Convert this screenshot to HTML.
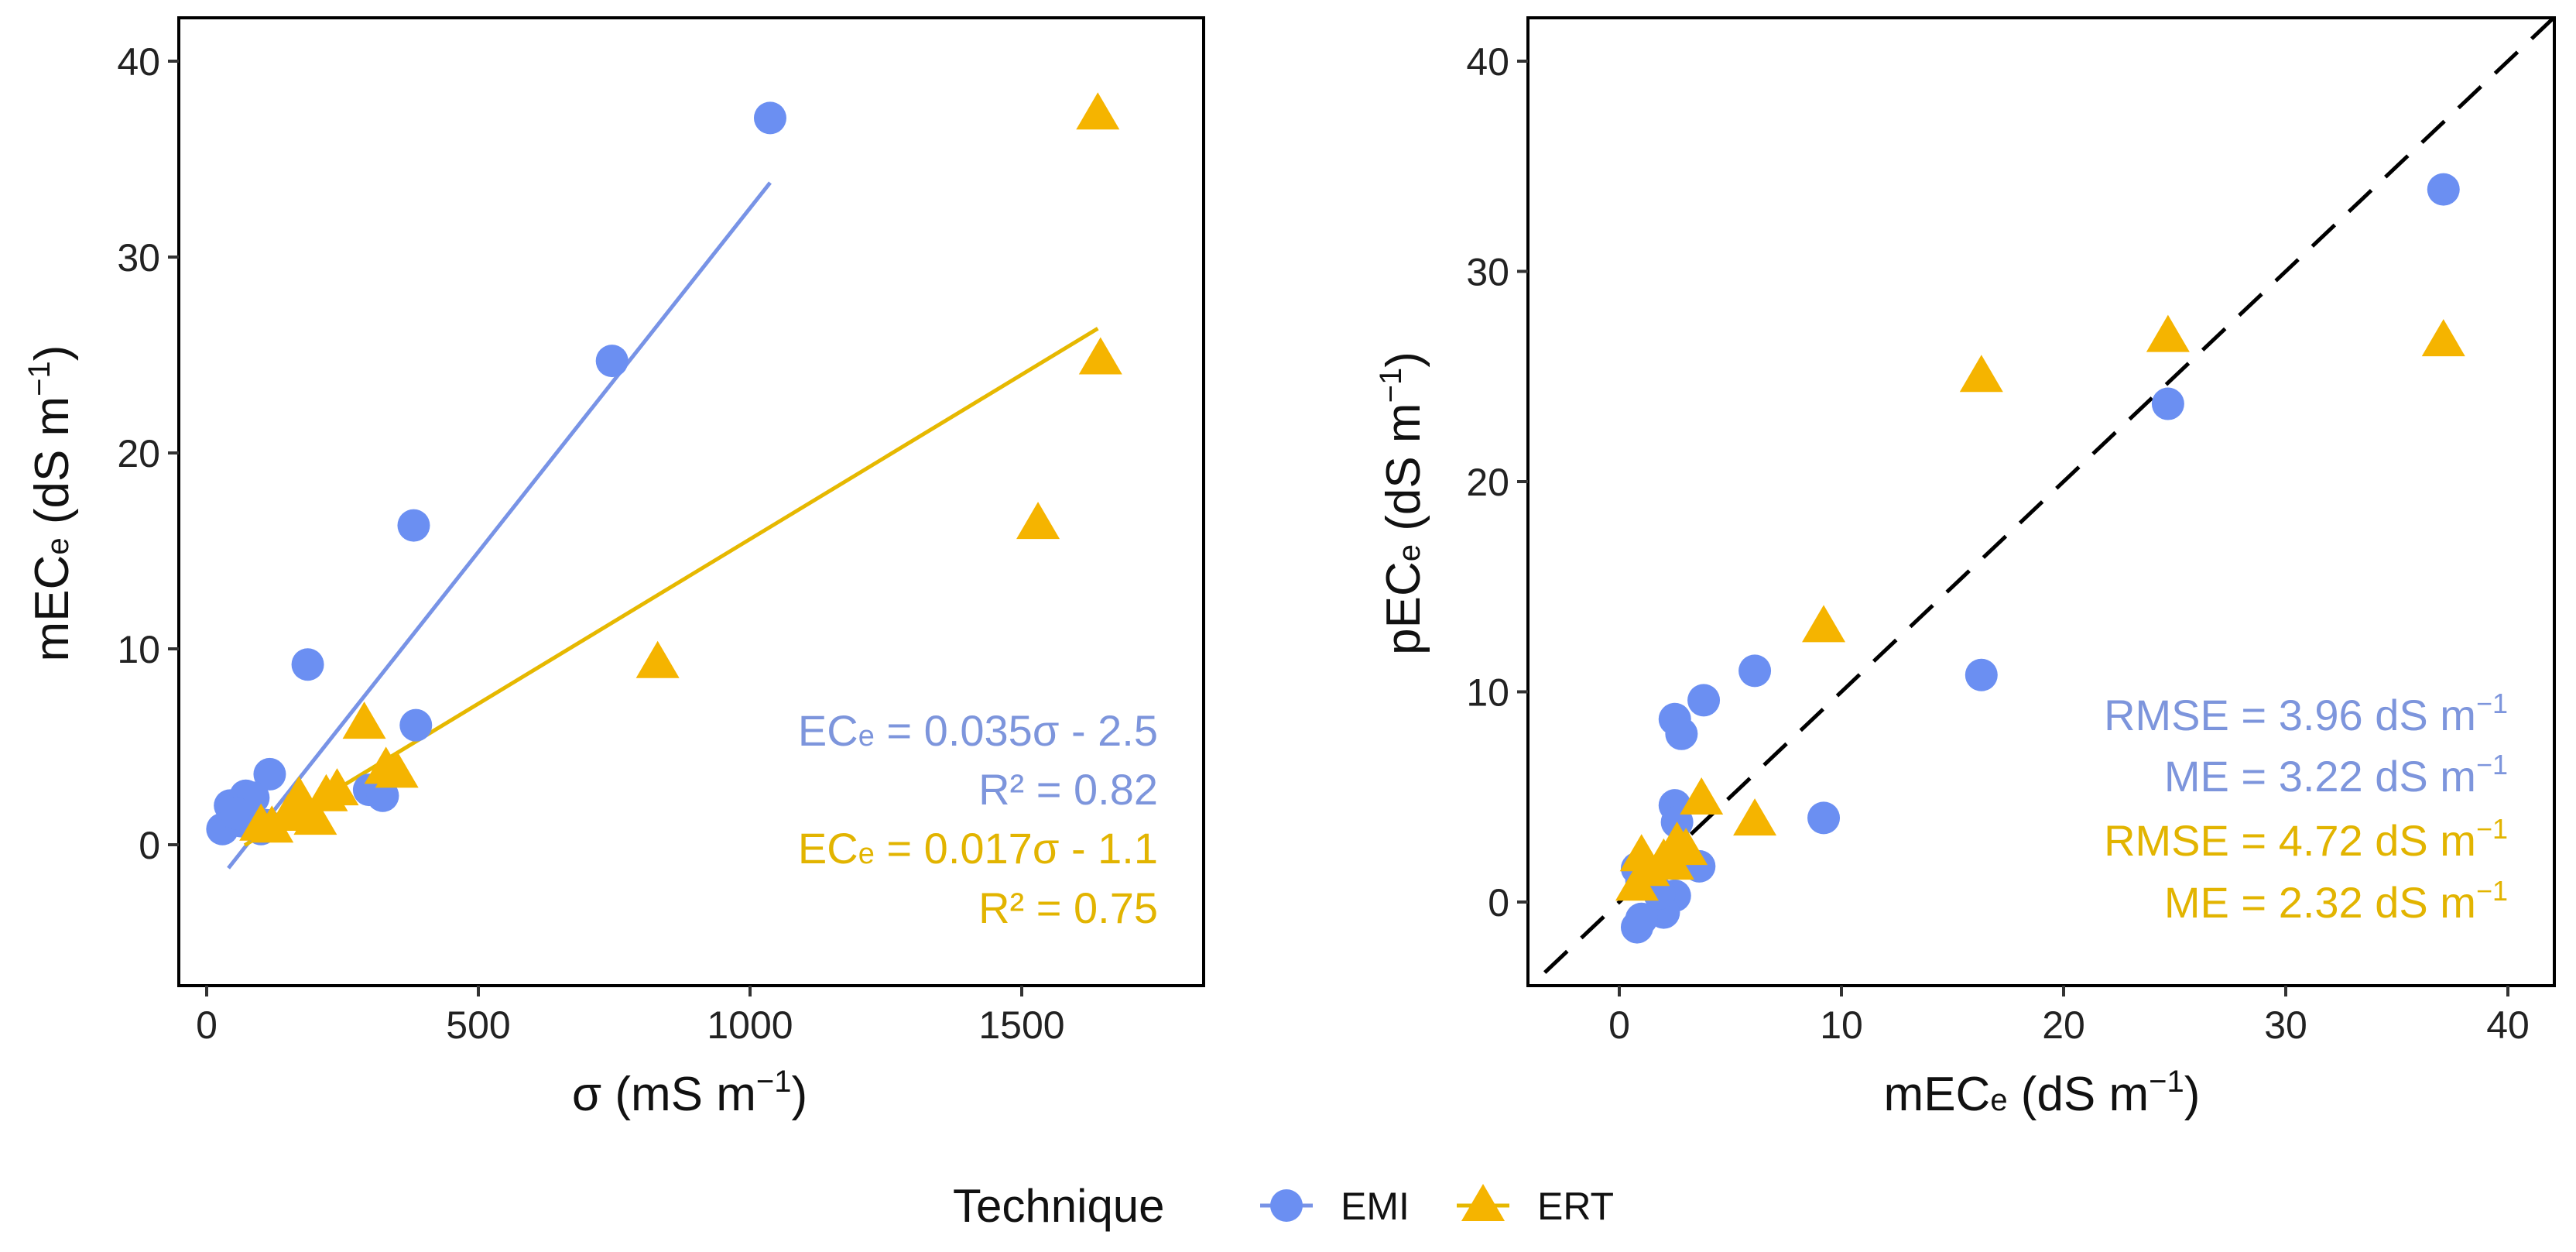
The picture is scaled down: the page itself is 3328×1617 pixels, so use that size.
<!DOCTYPE html>
<html><head><meta charset="utf-8">
<style>
html,body{margin:0;padding:0;background:#fff;}
svg{display:block;font-family:"Liberation Sans",Arial,sans-serif;}
</style></head>
<body>
<svg id="chart" width="3328" height="1617" viewBox="0 0 3328 1617" xmlns="http://www.w3.org/2000/svg">
  <rect x="0" y="0" width="3328" height="1617" fill="#fff"/>
</svg>
<script>
// ---- data: left panel (sigma vs mECe) ----
const leftEmiX = [1037, 746, 381, 186, 385, 116, 299, 324, 29, 43, 72, 100, 63, 86, 55, 110];
const leftEmiY = [37.1, 24.7, 16.3, 9.2, 6.1, 3.6, 2.8, 2.5, 0.8, 2.0, 2.5, 0.8, 1.2, 2.4, 1.6, 1.0];
const leftErtX = [1640, 1645, 1530, 830, 290, 330, 350, 240, 200, 150, 170, 120, 100, 180, 220];
const leftErtY = [37.3, 24.8, 16.4, 9.3, 6.2, 3.9, 3.7, 2.8, 1.3, 1.5, 2.4, 0.9, 1.0, 1.8, 2.5];
const fitSlope = [0.0351, 0.0168];
const fitIntercept = [-2.6, -1.2];
const fitRange = [[40, 1037], [70, 1640]];
// ---- data: right panel (mECe vs pECe) ----
const rightEmiX = [37.1, 24.7, 16.3, 9.2, 6.1, 3.8, 2.5, 2.8, 2.5, 2.6, 3.6, 2.5, 2.0, 0.8, 1.0, 0.8, 1.0, 1.8];
const rightEmiY = [33.9, 23.7, 10.8, 4.0, 11.0, 9.6, 8.7, 8.0, 4.6, 3.8, 1.7, 0.3, -0.5, -1.2, -0.8, 1.6, 1.0, 0.4];
const rightErtX = [37.1, 24.7, 16.3, 9.2, 6.1, 3.7, 2.6, 2.4, 1.0, 0.8, 1.3, 2.0, 3.0];
const rightErtY = [26.7, 26.9, 25.0, 13.1, 3.9, 4.9, 2.8, 1.8, 2.2, 0.8, 1.5, 2.0, 2.5];
const leftXTicks = [0, 500, 1000, 1500];
const leftYTicks = [0, 10, 20, 30, 40];
const rightXTicks = [0, 10, 20, 30, 40];
const rightYTicks = [0, 10, 20, 30, 40];

const NS = "http://www.w3.org/2000/svg";
const svg = document.getElementById('chart');
const BLUE = '#6b8ff2', YEL = '#f5b400', BLUE_T = '#7d95dc', YEL_T = '#e2b400', LINE_B = '#7893e6', LINE_Y = '#e6b800';

function mk(tag, attrs, parent) {
  const e = document.createElementNS(NS, tag);
  for (const k in attrs) e.setAttribute(k, attrs[k]);
  (parent || svg).appendChild(e);
  return e;
}
function scale(d0, d1, r0, r1) { return v => r0 + (v - d0) / (d1 - d0) * (r1 - r0); }

const L = {x0: 231, x1: 1555, y0: 23, y1: 1273};
const lx = scale(0, 1000, 267, 969), ly = scale(0, 40, 1091, 79);
const R = {x0: 1974, x1: 3300, y0: 23, y1: 1273};
const rx = scale(0, 40, 2092, 3240), ry = scale(0, 40, 1165, 79);

function circle(g, cx, cy) {
  const c = mk('circle', {cx: cx, cy: cy, r: 21, fill: BLUE}, g);
  
  
}
function tri(g, cx, cy) {
  const p = mk('polygon', {points: `${cx},${cy-28} ${cx-28},${cy+20} ${cx+28},${cy+20}`, fill: YEL}, g);
  
  
}
function axes(P, xs, ys, xt, yt, prefix) {
  const g = mk('g', {});
  
  
  mk('rect', {x: P.x0, y: P.y0, width: P.x1 - P.x0, height: P.y1 - P.y0, fill: 'none', stroke: '#000', 'stroke-width': 4}, g);
  xt.forEach(t => {
    const x = xs(t);
    mk('line', {x1: x, x2: x, y1: P.y1, y2: P.y1 + 14, stroke: '#333', 'stroke-width': 4}, g);
    const tx = mk('text', {x: x, y: P.y1 + 68, 'font-size': 50, 'text-anchor': 'middle', fill: '#222'}, g);
    tx.textContent = t;
    
    
  });
  yt.forEach(t => {
    const y = ys(t);
    mk('line', {x1: P.x0 - 14, x2: P.x0, y1: y, y2: y, stroke: '#333', 'stroke-width': 4}, g);
    const tx = mk('text', {x: P.x0 - 24, y: y + 18, 'font-size': 50, 'text-anchor': 'end', fill: '#222'}, g);
    tx.textContent = t;
    
    
  });
}
axes(L, lx, ly, leftXTicks, leftYTicks, 'left');
axes(R, rx, ry, rightXTicks, rightYTicks, 'right');

// left panel marks
const gl = mk('g', {});


[0, 1].forEach(i => {
  const [a, b] = fitRange[i];
  const ln = mk('line', {x1: lx(a), y1: ly(fitSlope[i]*a + fitIntercept[i]), x2: lx(b), y2: ly(fitSlope[i]*b + fitIntercept[i]), stroke: i ? LINE_Y : LINE_B, 'stroke-width': 5}, gl);
  
  
});
leftEmiX.forEach((v, i) => circle(gl, lx(v), ly(leftEmiY[i])));
leftErtX.forEach((v, i) => tri(gl, lx(v), ly(leftErtY[i])));

// right panel marks
const gr = mk('g', {});


const cp = mk('clipPath', {id: 'rc'}, gr);
mk('rect', {x: R.x0, y: R.y0, width: R.x1 - R.x0, height: R.y1 - R.y0}, cp);
const idl = mk('line', {x1: rx(-5), y1: ry(-5), x2: rx(43), y2: ry(43), stroke: '#000', 'stroke-width': 5, 'stroke-dasharray': '40 25', 'clip-path': 'url(#rc)'}, gr);


rightEmiX.forEach((v, i) => circle(gr, rx(v), ry(rightEmiY[i])));
rightErtX.forEach((v, i) => tri(gr, rx(v), ry(rightErtY[i])));
</script>
<svg style="position:absolute;left:0;top:0" width="3328" height="1617">
  <g font-family="Liberation Sans, Arial, sans-serif">
    <text transform="translate(88,650) rotate(-90)" font-size="62" text-anchor="middle" fill="#111">mEC<tspan font-size="40">e</tspan> (dS m<tspan font-size="40" dy="-24">−1</tspan><tspan dy="24">)</tspan></text>
    <text x="891" y="1434" font-size="62" text-anchor="middle" fill="#111">σ (mS m<tspan font-size="40" dy="-24">−1</tspan><tspan dy="24">)</tspan></text>
    <text transform="translate(1834,650) rotate(-90)" font-size="62" text-anchor="middle" fill="#111">pEC<tspan font-size="40">e</tspan> (dS m<tspan font-size="40" dy="-24">−1</tspan><tspan dy="24">)</tspan></text>
    <text x="2638" y="1434" font-size="62" text-anchor="middle" fill="#111">mEC<tspan font-size="40">e</tspan> (dS m<tspan font-size="40" dy="-24">−1</tspan><tspan dy="24">)</tspan></text>

    <g font-size="56" text-anchor="end">
      <text x="1496" y="963" fill="#7d95dc">EC<tspan font-size="38">e</tspan> = 0.035σ - 2.5</text>
      <text x="1496" y="1039" fill="#7d95dc">R² = 0.82</text>
      <text x="1496" y="1115" fill="#e2b400">EC<tspan font-size="38">e</tspan> = 0.017σ - 1.1</text>
      <text x="1496" y="1192" fill="#e2b400">R² = 0.75</text>
      <text x="3240" y="943" fill="#7d95dc">RMSE = 3.96 dS m<tspan font-size="36" dy="-22">−1</tspan></text>
      <text x="3240" y="1022" fill="#7d95dc">ME = 3.22 dS m<tspan font-size="36" dy="-22">−1</tspan></text>
      <text x="3240" y="1105" fill="#e2b400">RMSE = 4.72 dS m<tspan font-size="36" dy="-22">−1</tspan></text>
      <text x="3240" y="1185" fill="#e2b400">ME = 2.32 dS m<tspan font-size="36" dy="-22">−1</tspan></text>
    </g>

    <g>
      <text x="1231" y="1578" font-size="60" fill="#111">Technique</text>
      <line x1="1628" x2="1696" y1="1557" y2="1557" stroke="#7893e6" stroke-width="5"/>
      <circle cx="1662" cy="1557" r="21" fill="#6b8ff2"/>
      <text x="1732" y="1575" font-size="50" fill="#111">EMI</text>
      <line x1="1882" x2="1950" y1="1557" y2="1557" stroke="#e6b800" stroke-width="5"/>
      <polygon points="1916,1529 1888,1577 1944,1577" fill="#f5b400"/>
      <text x="1986" y="1575" font-size="50" fill="#111">ERT</text>
    </g>
  </g>
</svg>
</body></html>
